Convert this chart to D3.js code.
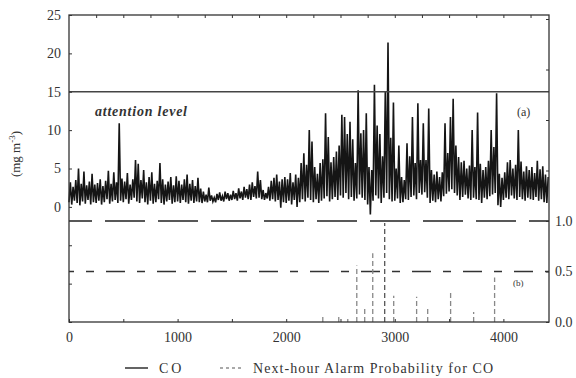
<!DOCTYPE html>
<html>
<head>
<meta charset="utf-8">
<script src="https://cdn.jsdelivr.net/npm/d3@7"></script>
<style>
  body { margin: 0; background: #fff; }
  svg { display: block; }
  text { font-family: "Liberation Serif", "Times New Roman", "DejaVu Serif", serif; fill: #333; }
</style>
</head>
<body>
<div id="chart"></div>
<script>
// CO concentration, one min/max pair every 25 hours
const binHours = 25;
const coMax = [
  3.2, 2.6, 3.5, 5.0, 3.0, 4.6, 2.8, 3.3, 4.3, 2.9,
  3.1, 3.6, 2.7, 3.4, 4.7, 3.0, 4.5, 3.2, 10.9, 3.7,
  3.3, 4.4, 2.9, 3.6, 6.1, 5.6, 3.5, 4.8, 3.2, 3.9,
  4.5, 3.0, 3.4, 5.7, 3.6, 2.9, 3.3, 3.9, 2.8, 4.0,
  3.4, 2.9, 3.6, 4.2, 3.0, 3.5, 2.7, 3.8, 2.4, 2.0,
  1.6, 2.5, 1.5, 1.2, 1.7, 1.9, 1.4, 2.0, 1.8, 1.6,
  2.1, 1.8, 2.4, 2.0, 2.6, 2.3, 2.9, 3.2, 2.7, 4.6,
  3.5, 2.2, 1.8, 2.6, 3.4, 3.8, 4.2, 3.3, 3.6, 3.9,
  3.6, 4.4, 3.2, 4.2, 3.8, 5.7, 7.0, 5.5, 10.0, 8.5,
  5.2, 4.3, 5.7, 6.2, 12.2, 9.1, 5.8, 6.5, 7.2, 8.0,
  12.0, 11.7, 9.5, 11.1, 8.8, 5.7, 15.2, 9.6, 10.0, 12.2,
  5.2, 4.8, 15.9, 10.6, 9.5, 6.6, 15.0, 21.4, 9.0, 13.6,
  5.0, 8.0, 3.9, 3.5, 8.3, 6.6, 11.7, 5.7, 13.5, 6.1,
  10.9, 6.1, 12.8, 4.8, 4.2, 4.6, 3.9, 4.5, 10.9, 7.0,
  11.7, 14.1, 8.0, 6.5, 5.8, 6.0, 5.0, 5.4, 10.0, 5.2,
  12.3, 5.6, 4.8, 5.2, 6.0, 10.0, 7.8, 14.8, 4.3, 3.8,
  4.5, 5.8, 6.1, 5.0, 5.5, 10.0, 5.9, 4.6, 5.3, 4.8,
  5.2, 4.4, 6.0, 4.9, 5.3, 4.2, 3.9
];
const coMin = [
  0.6, 0.3, 0.8, 0.5, 0.2, 0.7, 0.4, 0.9, 0.3, 0.6,
  0.5, 0.8, 0.3, 0.6, 1.0, 0.4, 0.7, 0.9, 0.5, 0.8,
  0.6, 1.0, 0.4, 0.9, 1.2, 0.7, 0.5, 1.1, 0.6, 0.3,
  0.8, 0.4, 0.6, 1.0, 0.5, 0.3, 0.7, 0.9, 0.4, 0.6,
  0.7, 0.5, 0.9, 0.6, 0.4, 0.8, 0.5, 0.7, 0.6, 0.5,
  0.7, 0.6, 0.8, 0.7, 0.6, 0.9, 0.8, 0.7, 1.0, 0.8,
  0.9, 1.0, 0.8, 1.1, 0.9, 1.2, 1.0, 0.9, 1.3, 1.1,
  1.2, 1.0, 0.9, 1.1, 0.8, 1.0, 0.7, 0.9, -0.1, 0.6,
  0.5, 0.8, 0.3, 0.9, 0.0, 0.6, 1.0, 0.7, 1.2, 0.9,
  0.6, 1.0, 0.5, 0.8, 1.1, 1.4, 0.7, 1.0, 1.3, 0.9,
  1.5, 1.2, 1.8, 1.0, 1.3, 0.8, 1.1, 1.6, 1.2, 0.9,
  0.3, -1.0, 0.8, 1.5, 1.1, 0.5, 1.2, 1.8, 1.0, 0.7,
  0.8, 1.1, 0.5, 0.6, 1.0, 0.9, 1.3, 1.5, 1.0, 1.8,
  1.6, 1.9, 1.2, 0.5, 0.8, 0.6, 1.0, 0.7, 1.4, 1.7,
  2.0, 2.3, 1.8, 1.5, 0.9, 1.3, 1.6, 1.1, 0.9, 1.2,
  1.0, 0.9, 0.5, 1.2, 1.0, 1.4, 1.6, 1.8, 0.2, 0.0,
  0.9, 1.2, 1.0, 1.5, 1.1, 0.9, 1.3, 1.0, 0.8, 1.2,
  1.0, 0.9, 1.3, 0.8, 1.0, 0.6, 0.5
];

// next-hour alarm probability (non-zero hours only)
const probHours = [2337, 2484, 2567, 2650, 2723, 2797, 2907, 2990, 3201, 3303, 3514, 3726, 3919];
const probValues = [0.08, 0.08, 0.03, 0.56, 0.15, 0.68, 0.98, 0.26, 0.25, 0.13, 0.31, 0.10, 0.44];

const attentionLevel = 15;
const hourTicks = [0, 1000, 2000, 3000, 4000];
const coTicks = [0, 5, 10, 15, 20, 25];
const probTicks = [0.0, 0.5, 1.0];

const width = 576;
const height = 378;
const plot = {left: 69, right: 549, top: 15, bottom: 322};
const serif = "'Liberation Serif', 'Times New Roman', 'DejaVu Serif', serif";

const svg = d3.select("#chart")
  .append("svg")
  .attr("width", width)
  .attr("height", height)
  .style("font-family", serif);

const x = d3.scaleLinear().domain([0, 4420]).range([plot.left, plot.right]);
const yCO = d3.scaleLinear().domain([-15, 25]).range([plot.bottom, plot.top]);
const yProb = d3.scaleLinear().domain([0, 1]).range([plot.bottom, 221]);

// CO trace: each bin goes min -> max
const coPoints = [];
coMax.forEach((hi, i) => {
  coPoints.push([i * binHours, coMin[i]]);
  coPoints.push([i * binHours + binHours / 2, hi]);
});

const line = d3.line()
  .x(d => x(d[0]))
  .y(d => yCO(d[1]));

svg.append("path")
  .datum(coPoints)
  .attr("fill", "none")
  .attr("stroke", "#151515")
  .attr("stroke-width", 1.6)
  .attr("stroke-linejoin", "miter")
  .attr("d", line);

// attention level
svg.append("line")
  .attr("x1", x(0)).attr("x2", plot.right)
  .attr("y1", yCO(attentionLevel)).attr("y2", yCO(attentionLevel))
  .attr("stroke", "#444")
  .attr("stroke-width", 1.3);

svg.append("text")
  .attr("x", 95)
  .attr("y", 116)
  .attr("textLength", 92)
  .style("font-family", serif)
  .style("font-style", "italic")
  .style("font-weight", "bold")
  .style("font-size", "14px")
  .text("attention level");

// probability reference lines
svg.append("line")
  .attr("x1", plot.left).attr("x2", plot.right)
  .attr("y1", yProb(1)).attr("y2", yProb(1))
  .attr("stroke", "#222")
  .attr("stroke-width", 1.6)
  .attr("stroke-dasharray", "40,13")
  .attr("stroke-dashoffset", 17);

svg.append("line")
  .attr("x1", plot.left).attr("x2", plot.right)
  .attr("y1", yProb(0.5)).attr("y2", yProb(0.5))
  .attr("stroke", "#333")
  .attr("stroke-width", 1.4)
  .attr("stroke-dasharray", "19,12,8,12")
  .attr("stroke-dashoffset", 14);

// probability spikes
svg.append("g")
  .selectAll("line")
  .data(probHours)
  .enter()
  .append("line")
  .attr("x1", d => x(d)).attr("x2", d => x(d))
  .attr("y1", yProb(0))
  .attr("y2", (d, i) => yProb(probValues[i]))
  .attr("stroke", (d, i) => probValues[i] > 0.9 ? "#555" : "#888")
  .attr("stroke-width", 1.3)
  .attr("stroke-dasharray", "5,3");

svg.append("text").attr("x", 517).attr("y", 116).style("font-size", "12px").text("(a)");
svg.append("text").attr("x", 513).attr("y", 286).style("font-size", "9px").text("(b)");

// frame
svg.append("rect")
  .attr("x", plot.left).attr("y", plot.top)
  .attr("width", plot.right - plot.left)
  .attr("height", plot.bottom - plot.top)
  .attr("fill", "none")
  .attr("stroke", "#333")
  .attr("stroke-width", 1.3);

const styleAxis = g => {
  g.select(".domain").remove();
  g.selectAll(".tick line").attr("stroke", "#333");
  g.selectAll("text")
    .style("font-family", serif)
    .style("font-size", "14px")
    .attr("fill", "#333");
};

// top ticks
svg.append("g")
  .attr("transform", `translate(0, ${plot.top})`)
  .call(d3.axisBottom(x).tickValues(d3.range(250, 4420, 250)).tickSize(3).tickFormat(""))
  .call(styleAxis);

// bottom axis
svg.append("g")
  .attr("transform", `translate(0, ${plot.bottom})`)
  .call(d3.axisBottom(x)
    .tickValues(d3.range(0, 4420, 500))
    .tickSizeInner(-3).tickSizeOuter(0).tickPadding(10)
    .tickFormat(d => hourTicks.includes(d) ? d : ""))
  .call(styleAxis);

// left axis
svg.append("g")
  .attr("transform", `translate(${plot.left}, 0)`)
  .call(d3.axisLeft(yCO)
    .tickValues(d3.range(-15, 26, 5))
    .tickSizeInner(-3).tickSizeOuter(0).tickPadding(8)
    .tickFormat(d => coTicks.includes(d) ? d : ""))
  .call(styleAxis);

// right axis
svg.append("g")
  .attr("transform", `translate(${plot.right}, 0)`)
  .call(d3.axisRight(yProb)
    .tickValues(d3.range(0, 3.01, 0.5))
    .tickSizeInner(-3).tickSizeOuter(0).tickPadding(6)
    .tickFormat(d => probTicks.includes(d) ? d.toFixed(1) : ""))
  .call(styleAxis);

// y label
const yLabel = svg.append("text")
  .attr("transform", "translate(20, 154) rotate(-90)")
  .attr("text-anchor", "middle")
  .style("font-size", "13px");
yLabel.append("tspan").text("(mg m");
yLabel.append("tspan").attr("dy", -5).style("font-size", "9px").text("-3");
yLabel.append("tspan").attr("dy", 5).text(")");

// legend
const legend = svg.append("g").attr("transform", "translate(0, 368)");
legend.append("line")
  .attr("x1", 125).attr("x2", 148)
  .attr("stroke", "#222").attr("stroke-width", 1.4);
legend.append("text")
  .attr("x", 159).attr("y", 5)
  .style("font-size", "14px")
  .style("letter-spacing", "3px")
  .text("CO");
legend.append("line")
  .attr("x1", 220).attr("x2", 243)
  .attr("stroke", "#555").attr("stroke-width", 1.2)
  .attr("stroke-dasharray", "3,3");
legend.append("text")
  .attr("x", 253).attr("y", 5)
  .attr("textLength", 240)
  .style("font-size", "14px")
  .text("Next-hour Alarm Probability for CO");
</script>
</body>
</html>
